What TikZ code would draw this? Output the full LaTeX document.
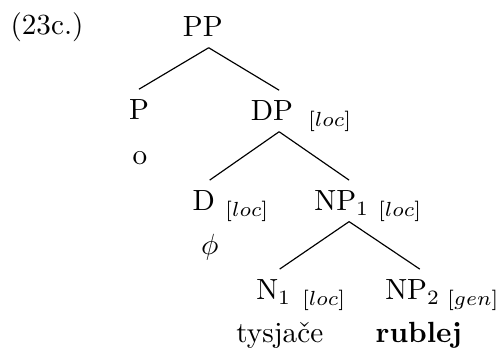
\documentclass[tikz,border=0pt]{standalone}
\usepackage{amsmath}
\usepackage{tikz}
\usetikzlibrary{positioning}

\begin{document}
\begin{tikzpicture}[
    cat/.style={anchor=base, inner xsep=0pt, inner ysep=3.5pt, text height=6.83pt, text depth=0pt},
    leaf/.style={anchor=base, inner sep=0pt},
    feat/.style={anchor=base west, inner sep=0pt},
    branch/.style={line width=0.4pt}
]
    \useasboundingbox (0,0) rectangle (6.06,-4.21);

    % Example number
    \node[anchor=base west, inner sep=0pt] (exnum) at (0.12, -0.42) {(23c.)};

    % Categories
    \node[cat] (pp) at (2.444, -0.445) {PP};
    \node[cat] (p) at (1.674, -1.445) {P};
    \node[cat] (dp) at (3.275, -1.457) {DP};
    \node[cat] (d) at (2.456, -2.540) {D};
    \node[cat] (np1) at (4.118, -2.540) {NP$_1$};
    \node[cat] (n1) at (3.299, -3.612) {N$_1$};
    \node[cat] (np2) at (4.973, -3.612) {NP$_2$};

    % Case features
    \node[feat] (dpcase) at (3.708, -1.457) {$_{[loc]}$};
    \node[feat] (dcase) at (2.709, -2.540) {$_{[loc]}$};
    \node[feat] (np1case) at (4.551, -2.540) {$_{[loc]}$};
    \node[feat] (n1case) at (3.636, -3.612) {$_{[loc]}$};
    \node[feat] (np2case) at (5.382, -3.612) {$_{[gen]}$};

    % Words
    \node[leaf] (o) at (1.686, -1.987) {o};
    \node[leaf] (phi) at (2.528, -3.070) {$\phi$};
    \node[leaf] (tysjace) at (3.371, -4.130) {tysja\v{c}e};
    \node[leaf] (rublej) at (5.045, -4.130) {\textbf{rublej}};

    % Branches
    \draw[branch] ([xshift=2pt]pp.south) -- (p.north);
    \draw[branch] ([xshift=2pt]pp.south) -- ([xshift=2.5pt]dp.north);
    \draw[branch] ([xshift=2.5pt]dp.south) -- ([xshift=2pt]d.north);
    \draw[branch] ([xshift=2.5pt]dp.south) -- ([xshift=2.5pt]np1.north);
    \draw[branch] ([xshift=2.5pt]np1.south) -- ([xshift=2pt]n1.north);
    \draw[branch] ([xshift=2.5pt]np1.south) -- ([xshift=2.4pt]np2.north);

\end{tikzpicture}
\end{document}
